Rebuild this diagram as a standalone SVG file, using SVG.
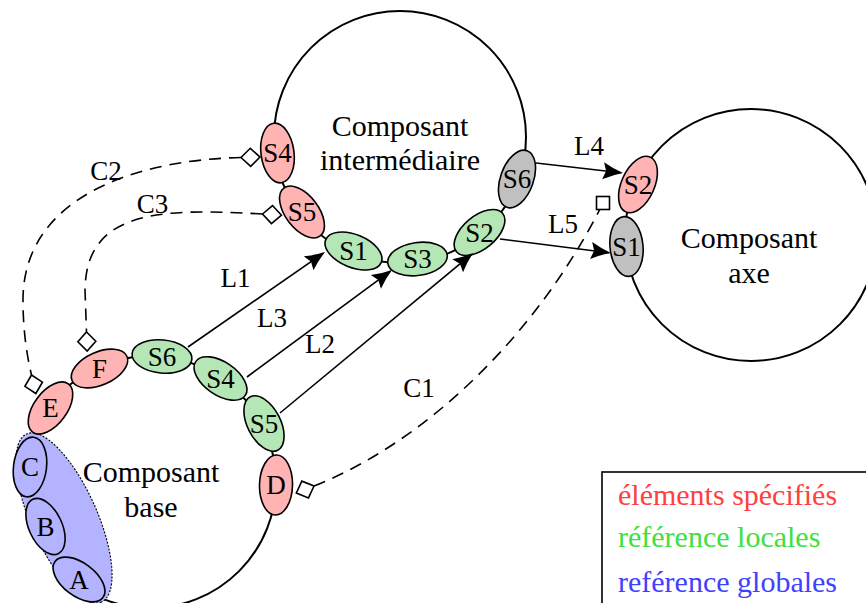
<svg xmlns="http://www.w3.org/2000/svg" width="866" height="603" viewBox="0 0 866 603" font-family="'Liberation Serif', 'DejaVu Serif', 'Times New Roman', serif">
<style>
  text { font-family: "Liberation Serif", "DejaVu Serif", "Times New Roman", serif; fill: #000; }
  .big { font-size: 30px; text-anchor: middle; }
  .lab { font-size: 27px; text-anchor: middle; }
  .comp { fill: none; stroke: #000; stroke-width: 2; }
  .port { stroke: #000; stroke-width: 1.6; }
  .red { fill: #ffb3b3; }
  .green { fill: #b5e6b5; }
  .gray { fill: #c0c0c0; }
  .blue { fill: #b3b3ff; }
  .group { fill: #b3b3ff; stroke: #000; stroke-width: 1.1; stroke-dasharray: 2 1.5; }
  .arrow { fill: none; stroke: #000; stroke-width: 1.6; marker-end: url(#tip); }
  .dash { fill: none; stroke: #000; stroke-width: 1.6; stroke-dasharray: 12 8; }
  .leg { font-size: 30px; }
</style>
<defs>
  <marker id="tip" markerUnits="userSpaceOnUse" orient="auto" overflow="visible" refX="0" refY="0" markerWidth="24" markerHeight="24">
    <path d="M2,0 Q-8,-3 -18,-8.5 L-15,0 L-18,8.5 Q-8,3 2,0 Z" fill="#000"/>
  </marker>
  <marker id="diamond" markerUnits="userSpaceOnUse" orient="auto-start-reverse" overflow="visible" refX="0" refY="0" markerWidth="20" markerHeight="20">
    <path d="M0,0 L9.5,-9 L19,0 L9.5,9 Z" fill="#fff" stroke="#000" stroke-width="1.6" stroke-dasharray="none"/>
  </marker>
  <marker id="square" markerUnits="userSpaceOnUse" orient="0" overflow="visible" refX="0" refY="0" markerWidth="20" markerHeight="20">
    <rect x="-6.5" y="-6.5" width="13" height="13" fill="#fff" stroke="#000" stroke-width="1.6" stroke-dasharray="none"/>
  </marker>
</defs>
<rect x="0" y="0" width="866" height="603" fill="#fff"/>

<g id="composant-base">
  <circle class="comp" cx="150" cy="482" r="126"/>
  <text class="big" x="151" y="482">Composant</text>
  <text class="big" x="151" y="517">base</text>
</g>
<g id="composant-intermediaire">
  <circle class="comp" cx="400" cy="137" r="126"/>
  <text class="big" x="400" y="136">Composant</text>
  <text class="big" x="400" y="170">intermédiaire</text>
</g>
<g id="composant-axe">
  <circle class="comp" cx="751" cy="235" r="126"/>
  <text class="big" x="749" y="248">Composant</text>
  <text class="big" x="749" y="283">axe</text>
</g>

<g id="groupe-global">
  <ellipse class="group" cx="64" cy="518" rx="92" ry="33" transform="rotate(66 64 518)"/>
</g>

<g id="base-C" transform="translate(30,467)"><ellipse class="port blue" rx="30" ry="16.5" transform="rotate(97)"/><text class="lab" y="9">C</text></g>
<g id="base-B" transform="translate(45.5,526.5)"><ellipse class="port blue" rx="30" ry="16.5" transform="rotate(65)"/><text class="lab" y="9">B</text></g>
<g id="base-A" transform="translate(79,579.5)"><ellipse class="port blue" rx="30" ry="16.5" transform="rotate(37)"/><text class="lab" y="9">A</text></g>
<g id="base-E" transform="translate(50.5,408)"><ellipse class="port red" rx="30" ry="16.5" transform="rotate(-53.4)"/><text class="lab" y="9">E</text></g>
<g id="base-F" transform="translate(99.5,368.5)"><ellipse class="port red" rx="30" ry="16.5" transform="rotate(-24)"/><text class="lab" y="9">F</text></g>
<g id="base-S6" transform="translate(162,356.5)"><ellipse class="port green" rx="30" ry="16.5" transform="rotate(5.5)"/><text class="lab" y="9">S6</text></g>
<g id="base-S4" transform="translate(220.5,378.5)"><ellipse class="port green" rx="30" ry="16.5" transform="rotate(34.3)"/><text class="lab" y="9">S4</text></g>
<g id="base-S5" transform="translate(264,423.5)"><ellipse class="port green" rx="30" ry="16.5" transform="rotate(62.8)"/><text class="lab" y="9">S5</text></g>
<g id="base-D" transform="translate(276,485)"><ellipse class="port red" rx="30" ry="16.5" transform="rotate(91.4)"/><text class="lab" y="9">D</text></g>

<g id="inter-S4" transform="translate(277.5,153)"><ellipse class="port red" rx="30" ry="16.5" transform="rotate(82.6)"/><text class="lab" y="9">S4</text></g>
<g id="inter-S5" transform="translate(302,212)"><ellipse class="port red" rx="30" ry="16.5" transform="rotate(52.6)"/><text class="lab" y="9">S5</text></g>
<g id="inter-S1" transform="translate(353.5,251)"><ellipse class="port green" rx="30" ry="16.5" transform="rotate(22.2)"/><text class="lab" y="9">S1</text></g>
<g id="inter-S3" transform="translate(417.5,259)"><ellipse class="port green" rx="30" ry="16.5" transform="rotate(-8.2)"/><text class="lab" y="9">S3</text></g>
<g id="inter-S2" transform="translate(479.5,232.5)"><ellipse class="port green" rx="30" ry="16.5" transform="rotate(-39.8)"/><text class="lab" y="9">S2</text></g>
<g id="inter-S6" transform="translate(517,179)"><ellipse class="port gray" rx="30" ry="16.5" transform="rotate(-70.3)"/><text class="lab" y="9">S6</text></g>

<g id="axe-S2" transform="translate(638,184.5)"><ellipse class="port red" rx="30" ry="16.5" transform="rotate(-65.9)"/><text class="lab" y="9">S2</text></g>
<g id="axe-S1" transform="translate(626.5,246.5)"><ellipse class="port gray" rx="30" ry="16.5" transform="rotate(84.7)"/><text class="lab" y="9">S1</text></g>

<g id="connectors">
  <path class="arrow" d="M188,347 L323.4,253.1"/>
  <path class="arrow" d="M247,377 L390.4,271.2"/>
  <path class="arrow" d="M280,413 L471.5,254.3"/>
  <path class="arrow" d="M536,163 L621,172.8"/>
  <path class="arrow" d="M500,239 L609,252.7"/>
  <path class="dash" d="M241,157.5 C130,160 23,200 23,300 C23,335 28,360 31.5,375" marker-start="url(#diamond)" marker-end="url(#diamond)"/>
  <path class="dash" d="M262.5,214 C160,208 86,210 85,290 L86.5,332" marker-start="url(#diamond)" marker-end="url(#diamond)"/>
  <path class="dash" d="M314,486 C430,440 540,330 603,203" marker-start="url(#diamond)" marker-end="url(#square)"/>
  <text class="lab" x="106" y="180">C2</text>
  <text class="lab" x="152.5" y="213">C3</text>
  <text class="lab" x="235.5" y="287">L1</text>
  <text class="lab" x="272" y="327">L3</text>
  <text class="lab" x="320" y="353">L2</text>
  <text class="lab" x="419" y="397">C1</text>
  <text class="lab" x="589" y="155">L4</text>
  <text class="lab" x="563" y="233">L5</text>
</g>

<g id="legende">
  <rect x="602" y="472" width="300" height="200" fill="#fff" stroke="#000" stroke-width="1.6"/>
  <text class="leg" x="618" y="505" style="fill:#ff4040">éléments spécifiés</text>
  <text class="leg" x="618" y="547" style="fill:#40e040">référence locales</text>
  <text class="leg" x="618" y="592" style="fill:#4040ff">reférence globales</text>
</g>
</svg>
